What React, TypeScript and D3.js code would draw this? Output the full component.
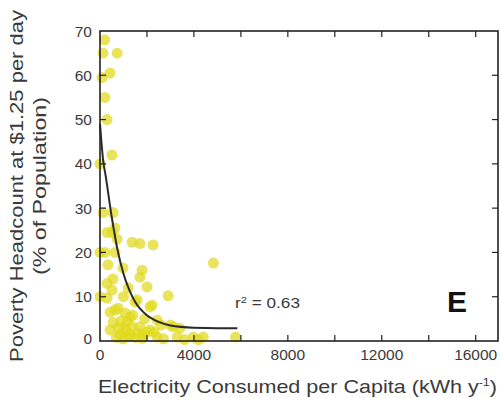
import React from "react";
import * as d3 from "d3";

// Scatter data: electricity consumed per capita (kWh/y) vs poverty headcount (%)
const electricity: number[] = [
  200, 130, 730, 430, 90, 210, 300, 510, 0, 130,
  560, 640, 300, 510, 730, 1370, 1700, 2260, 210, 640,
  340, 980, 1790, 1700, 4830, 550, 300, 2000, 510, 2900,
  300, 1580, 770, 2130, 430, 1070, 2430, 1150, 1370, 1700,
  770, 2130, 3120, 1280, 1840, 2430, 3290, 3970, 4400, 5770,
  850, 640, 1280, 1500, 2220, 2600, 3000, 3400, 980, 1100,
  2000, 2700, 1500, 1000, 1900, 0, 0, 1200, 4200, 3600,
  2300, 1600, 430, 900, 1250, 700, 1050, 560, 1400, 1800,
];
const poverty: number[] = [
  68, 65, 65, 60.5, 59.5, 55, 50, 42, 40, 29,
  29, 25.5, 24.5, 24.5, 23, 22.3, 22, 21.7, 20, 20,
  17.2, 16.5, 16, 14.4, 17.6, 14, 13, 12.2, 11.5, 10.2,
  9.7, 9.3, 7.4, 7.7, 6.5, 6.3, 4.7, 4.3, 3.2, 3.2,
  3, 2.5, 3.2, 1.4, 1.4, 0.9, 0.9, 0.9, 0.9, 0.9,
  1.4, 7, 5.4, 8.8, 8.1, 3.6, 3.6, 2.9, 0.5, 2.2,
  2, 0.5, 0.8, 10, 5, 10, 20, 12, 0.3, 0.3,
  2, 1.8, 2.5, 4.5, 1, 0.8, 2.8, 4.2, 5.8, 0.6,
];

// Fitted curve
const fitX: number[] = [0, 130, 250, 500, 750, 1000, 1250, 1500, 2000, 2500, 3000, 4000, 5000, 5850];
const fitY: number[] = [49, 41, 37, 28, 20.5, 15.2, 11.5, 8.8, 5.8, 4.3, 3.5, 3.0, 2.9, 2.9];

const xTicks: number[] = [0, 2000, 4000, 6000, 8000, 10000, 12000, 14000, 16000];
const xTickLabels: string[] = ["0", "", "4000", "", "8000", "", "12000", "", "16000"];
const yTicks: number[] = [0, 10, 20, 30, 40, 50, 60, 70];

const FONT = "'Liberation Sans', Arial, Helvetica, sans-serif";

export default function App() {
  const left = 100, right = 498, top = 31, bottom = 341;
  const x = d3.scaleLinear().domain([0, 16950]).range([left, right]);
  const y = d3.scaleLinear().domain([0, 70]).range([bottom, top]);

  const line = d3
    .line<number>()
    .x((_, i) => x(fitX[i]))
    .y((d) => y(d))
    .curve(d3.curveMonotoneX);

  const tickLen = 6;
  const axisColor = "#222";
  const textColor = "#3a3a3a";

  return (
    <svg
      width={500}
      height={398}
      style={{ position: "absolute", left: 0, top: 0, background: "#fff" }}
    >
      <rect x={0} y={0} width={500} height={398} fill="#fff" />
      {/* points */}
      <g>
        {electricity.map((e, i) => (
          <circle
            key={i}
            cx={x(e)}
            cy={y(poverty[i])}
            r={5.5}
            fill="#e0d91c"
            fillOpacity={0.72}
          />
        ))}
      </g>
      {/* fit curve */}
      <path d={line(fitY) || ""} fill="none" stroke="#2b2b2b" strokeWidth={2} />
      {/* frame */}
      <rect
        x={left}
        y={top}
        width={right - left}
        height={bottom - top}
        fill="none"
        stroke={axisColor}
        strokeWidth={1.6}
      />
      {/* x ticks */}
      {xTicks.map((t, i) => (
        <g key={"xt" + i}>
          {i > 0 && (
            <>
              <line x1={x(t)} x2={x(t)} y1={bottom} y2={bottom - tickLen} stroke={axisColor} strokeWidth={1.2} />
              <line x1={x(t)} x2={x(t)} y1={top} y2={top + tickLen} stroke={axisColor} strokeWidth={1.2} />
            </>
          )}
          {xTickLabels[i] && (
            <text
              x={x(t)}
              y={360}
              textAnchor="middle"
              fontFamily={FONT}
              fontSize={15.5}
              fill={textColor}
            >
              {xTickLabels[i]}
            </text>
          )}
        </g>
      ))}
      {/* y ticks */}
      {yTicks.map((t, i) => (
        <g key={"yt" + i}>
          {t > 0 && t < 70 && (
            <>
              <line x1={left} x2={left + tickLen} y1={y(t)} y2={y(t)} stroke={axisColor} strokeWidth={1.2} />
              <line x1={right} x2={right - tickLen} y1={y(t)} y2={y(t)} stroke={axisColor} strokeWidth={1.2} />
            </>
          )}
          <text
            x={92}
            y={y(t) - (t === 0 ? 3 : 0)}
            dy="0.36em"
            textAnchor="end"
            fontFamily={FONT}
            fontSize={15.5}
            fill={textColor}
          >
            {t}
          </text>
        </g>
      ))}
      {/* r2 annotation */}
      <text x={235} y={308} fontFamily={FONT} fontSize={14} fill={textColor} textLength={65} lengthAdjust="spacingAndGlyphs">
        r<tspan dy={-5} fontSize={9}>2</tspan>
        <tspan dy={5}> = 0.63</tspan>
      </text>
      {/* panel letter */}
      <text x={447} y={312} fontFamily={FONT} fontSize={30} fontWeight="bold" fill="#111">
        E
      </text>
      {/* x axis label */}
      <text
        x={98}
        y={393}
        fontFamily={FONT}
        fontSize={19}
        fill={textColor}
        textLength={399}
        lengthAdjust="spacingAndGlyphs"
      >
        Electricity Consumed per Capita (kWh  y
        <tspan dy={-7} fontSize={11}>-1</tspan>
        <tspan dy={7}>)</tspan>
      </text>
      {/* y axis label */}
      <g transform="translate(0,186) rotate(-90)">
        <text
          x={0}
          y={23}
          textAnchor="middle"
          fontFamily={FONT}
          fontSize={18.5}
          fill={textColor}
          textLength={352}
          lengthAdjust="spacingAndGlyphs"
        >
          Poverty Headcount at $1.25 per day
        </text>
        <text
          x={0}
          y={46}
          textAnchor="middle"
          fontFamily={FONT}
          fontSize={18.5}
          fill={textColor}
          textLength={178}
          lengthAdjust="spacingAndGlyphs"
        >
          (% of Population)
        </text>
      </g>
    </svg>
  );
}
